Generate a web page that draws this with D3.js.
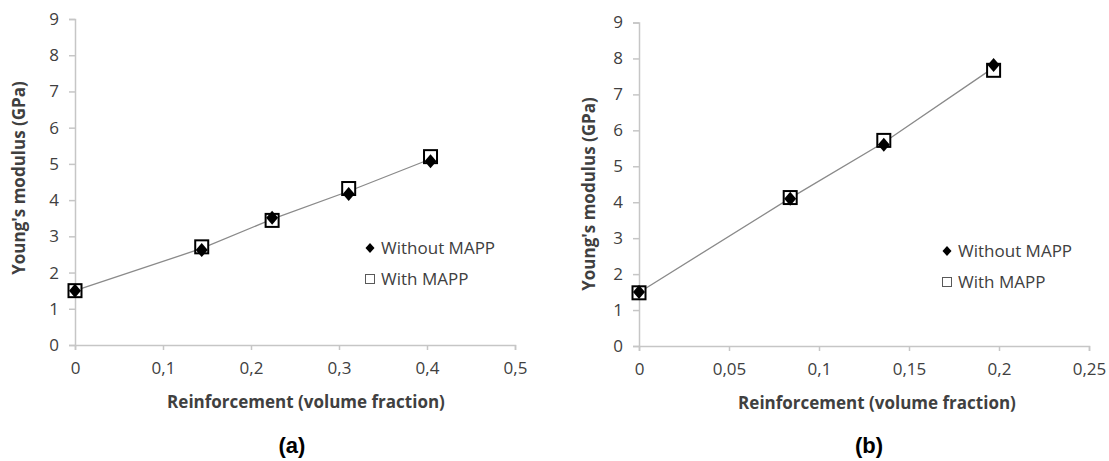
<!DOCTYPE html>
<html>
<head>
<meta charset="utf-8">
<script src="https://cdn.jsdelivr.net/npm/d3@7"></script>
<style>
  body { margin: 0; background: #fff; }
  svg text { font-family: "Open Sans", sans-serif; }
</style>
</head>
<body>
<div id="chart"></div>
<script>
var width = 1109,
  height = 461;

// panel (a)
var fracA = [0, 0.144, 0.224, 0.311, 0.404];
var withoutA = [1.5, 2.62, 3.51, 4.17, 5.07];
var withA = [1.5, 2.71, 3.44, 4.32, 5.2];
var xTicksA = [0, 0.1, 0.2, 0.3, 0.4, 0.5];

// panel (b)
var fracB = [0, 0.084, 0.136, 0.197];
var withoutB = [1.5, 4.1, 5.6, 7.82];
var withB = [1.48, 4.13, 5.72, 7.67];
var xTicksB = [0, 0.05, 0.1, 0.15, 0.2, 0.25];

var yTicks = [0, 1, 2, 3, 4, 5, 6, 7, 8, 9];
var seriesNames = ["Without MAPP", "With MAPP"];

var svg = d3.select("#chart").append("svg")
  .attr("width", width)
  .attr("height", height);

var fmt = function(d) { return String(d).replace(".", ","); };

function drawPanel(p) {
  var g = svg.append("g");

  var x = d3.scaleLinear().domain([0, p.xmax]).range([p.left, p.right]);
  var y = d3.scaleLinear().domain([0, 9]).range([p.bottom, p.top]);

  // y axis
  var yAxis = g.append("g")
    .attr("transform", "translate(" + p.left + ",0)")
    .call(d3.axisLeft(y).tickValues(yTicks).tickSize(6).tickPadding(10));

  // x axis
  var xAxis = g.append("g")
    .attr("transform", "translate(0," + p.bottom + ")")
    .call(d3.axisBottom(x).tickValues(p.xticks).tickFormat(fmt).tickSize(5).tickPadding(12));

  [xAxis, yAxis].forEach(function(a) {
    a.select(".domain").attr("stroke", "#c6c6c6").attr("stroke-width", 1.5);
    a.selectAll(".tick line").attr("stroke", "#c6c6c6").attr("stroke-width", 1.5);
    a.selectAll(".tick text")
      .attr("fill", "#404040")
      .style("font-size", "17px")
      .style("font-family", "'Open Sans', sans-serif");
  });

  // line through the points (mean of both series)
  var pts = p.frac.map(function(f, i) {
    return [f, (p.without[i] + p.with[i]) / 2];
  });
  g.append("path")
    .datum(pts)
    .attr("fill", "none")
    .attr("stroke", "#8a8a8a")
    .attr("stroke-width", 1.3)
    .attr("d", d3.line()
      .x(function(d) { return x(d[0]); })
      .y(function(d) { return y(d[1]); }));

  // With MAPP squares
  g.selectAll(".sq")
    .data(p.frac)
    .enter().append("rect")
    .attr("x", function(d) { return x(d) - 6.5; })
    .attr("y", function(d, i) { return y(p.with[i]) - 6.5; })
    .attr("width", 13)
    .attr("height", 13)
    .attr("fill", "#fff")
    .attr("stroke", "#000")
    .attr("stroke-width", 2);

  // Without MAPP diamonds
  g.selectAll(".dm")
    .data(p.frac)
    .enter().append("path")
    .attr("transform", function(d, i) {
      return "translate(" + x(d) + "," + y(p.without[i]) + ")";
    })
    .attr("d", "M0,-7L6,0L0,7L-6,0Z")
    .attr("fill", "#000");

  // legend
  var lg = g.append("g").attr("transform", "translate(" + p.legX + "," + p.legY + ")");
  lg.append("path")
    .attr("d", "M0,-5L4.5,0L0,5L-4.5,0Z")
    .attr("fill", "#000");
  lg.append("rect")
    .attr("x", -4.5).attr("y", 31 - 4.5)
    .attr("width", 9).attr("height", 9)
    .attr("fill", "#fff")
    .attr("stroke", "#595959")
    .attr("stroke-width", 1);
  lg.selectAll("text")
    .data(seriesNames)
    .enter().append("text")
    .attr("x", 11)
    .attr("y", function(d, i) { return i * 31 + 6; })
    .attr("fill", "#404040")
    .style("font-size", "17px")
    .text(function(d) { return d; });

  // axis titles
  g.append("text")
    .attr("x", p.xTitleX)
    .attr("y", p.bottom + 63)
    .attr("text-anchor", "middle")
    .attr("fill", "#404040")
    .style("font-size", "17px")
    .style("font-weight", "bold")
    .text("Reinforcement (volume fraction)");

  g.append("text")
    .attr("transform", "translate(" + p.yTitleX + "," + p.yTitleY + ") rotate(-90)")
    .attr("text-anchor", "middle")
    .attr("fill", "#404040")
    .style("font-size", "17px")
    .style("font-weight", "bold")
    .text("Young's modulus (GPa)");

  // panel label
  g.append("text")
    .attr("x", p.labelX)
    .attr("y", 453)
    .attr("text-anchor", "middle")
    .attr("fill", "#000")
    .style("font-family", "Arial, 'Liberation Sans', sans-serif")
    .style("font-size", "22px")
    .style("font-weight", "bold")
    .text(p.label);
}

drawPanel({
  frac: fracA, without: withoutA, with: withA, xticks: xTicksA, xmax: 0.5,
  left: 75, right: 515, top: 19, bottom: 345,
  legX: 370, legY: 248,
  xTitleX: 306, yTitleX: 25, yTitleY: 178,
  labelX: 292, label: "(a)"
});

drawPanel({
  frac: fracB, without: withoutB, with: withB, xticks: xTicksB, xmax: 0.25,
  left: 639, right: 1089, top: 22.5, bottom: 346,
  legX: 947, legY: 251,
  xTitleX: 877, yTitleX: 595, yTitleY: 194,
  labelX: 869, label: "(b)"
});
</script>
</body>
</html>
